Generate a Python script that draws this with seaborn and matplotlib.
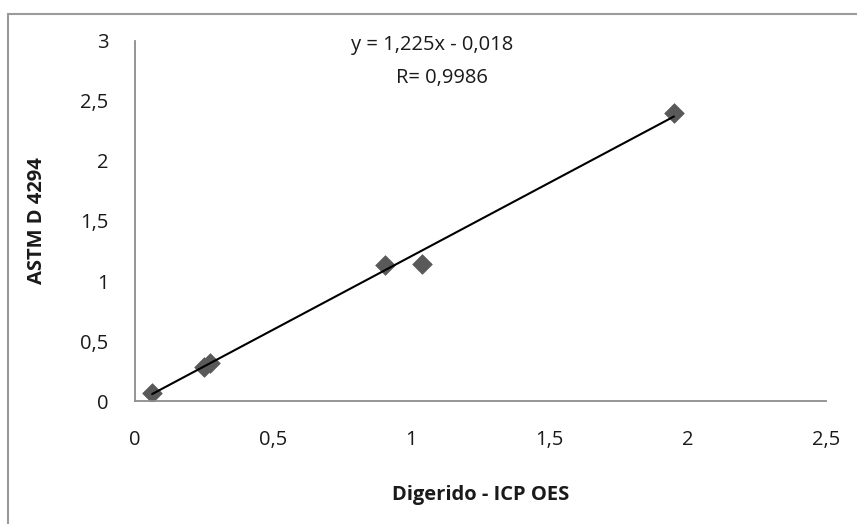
import matplotlib
matplotlib.use("Agg")
import matplotlib.pyplot as plt
import matplotlib.patches as mpatches
import matplotlib.ticker as mticker
import numpy as np
import pandas as pd
import seaborn as sns

# Measured sulfur values: digested sample by ICP OES vs ASTM D 4294
icp_oes = [0.062, 0.25, 0.27, 0.905, 1.04, 1.95]
astm_d4294 = [0.067, 0.28, 0.32, 1.13, 1.14, 2.40]

# Linear trendline coefficients and correlation
slope = 1.225
intercept = -0.018
r_value = 0.9986

x_ticks = [0, 0.5, 1, 1.5, 2, 2.5]
y_ticks = [0, 0.5, 1, 1.5, 2, 2.5, 3]

sns.set_theme(style="white")
plt.rcParams["font.family"] = ["Open Sans", "DejaVu Sans"]

fig = plt.figure(figsize=(8.57, 5.24), dpi=100)
ax = fig.add_axes([0.1575, 0.2347, 0.8063, 0.6871])

# Outer chart frame
fig.patches.append(mpatches.Rectangle((8 / 857, -0.01), 1.0, 1 - 14 / 524 + 0.01,
                                      transform=fig.transFigure, fill=False,
                                      edgecolor="#9a9a9a", linewidth=1.5))

df = pd.DataFrame({"x": icp_oes, "y": astm_d4294})
trend_x = np.array([min(icp_oes), max(icp_oes)])
trend = pd.DataFrame({"x": trend_x, "y": slope * trend_x + intercept})

sns.lineplot(data=trend, x="x", y="y", ax=ax, color="black", linewidth=1.5, zorder=3)
sns.scatterplot(data=df, x="x", y="y", ax=ax, marker="D", s=100, color="#595959",
                edgecolor="#595959", linewidth=0.5, zorder=2)

ax.set_xlim(0, 2.5)
ax.set_ylim(0, 3)
ax.set_xticks(x_ticks)
ax.set_yticks(y_ticks)
fmt = mticker.FuncFormatter(lambda v, p: f"{v:g}".replace(".", ","))
ax.xaxis.set_major_formatter(fmt)
ax.yaxis.set_major_formatter(fmt)

for s in ["top", "right"]:
    ax.spines[s].set_visible(False)
for s in ["left", "bottom"]:
    ax.spines[s].set_color("#8c8c8c")
    ax.spines[s].set_linewidth(1.3)
ax.tick_params(axis="both", direction="out", length=7, width=1.3, color="#8c8c8c",
               labelsize=14.5, labelcolor="#1a1a1a")
ax.tick_params(axis="x", pad=14)
ax.tick_params(axis="y", pad=12)

ax.set_xlabel("Digerido - ICP OES", fontsize=14.5, fontweight="bold", labelpad=25, color="#1a1a1a")
ax.set_ylabel("ASTM D 4294", fontsize=14.5, fontweight="bold", labelpad=24, color="#1a1a1a")

eq = f"y = {slope:.3f}x - {abs(intercept):.3f}".replace(".", ",")
ax.text(0.43, 0.989, eq, transform=ax.transAxes, ha="center", va="center",
        fontsize=14.5, color="#1a1a1a")
ax.text(0.444, 0.897, f"R= {r_value:.4f}".replace(".", ","), transform=ax.transAxes,
        ha="center", va="center", fontsize=14.5, color="#1a1a1a")

fig.savefig("out.png", dpi=100)
